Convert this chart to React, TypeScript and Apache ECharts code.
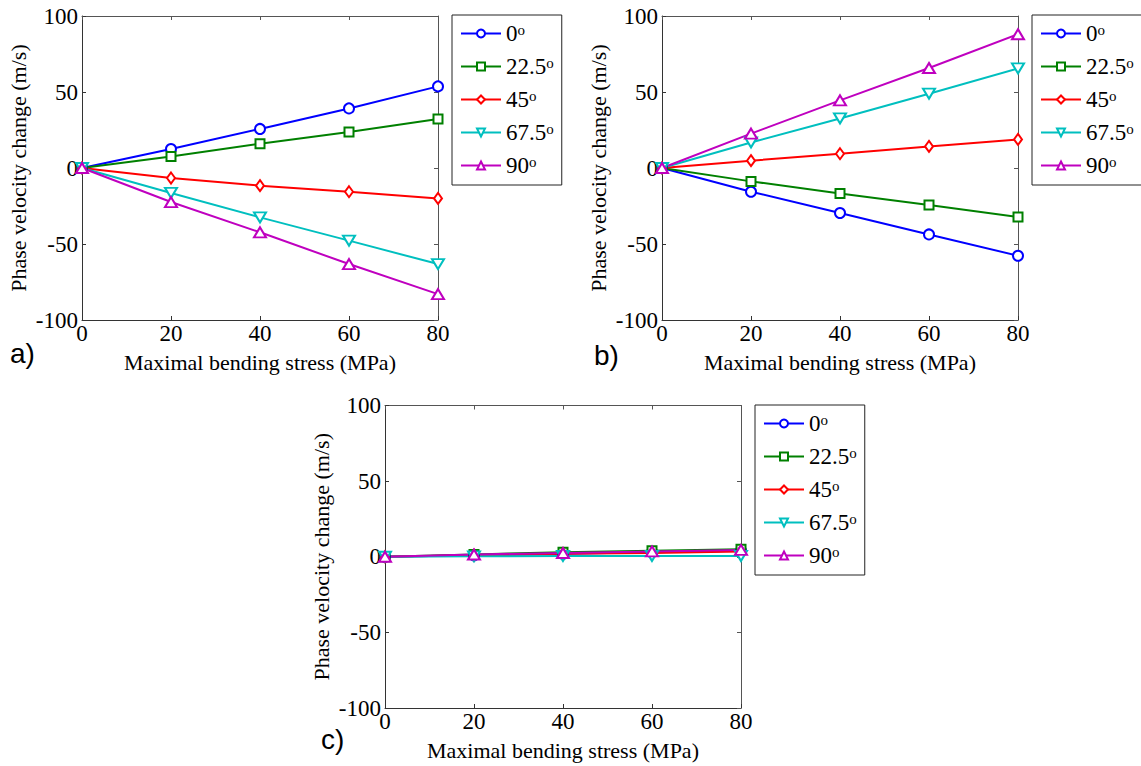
import React, { useEffect, useRef } from 'react';
import * as echarts from 'echarts';

// ---- data ----
const stress = [0, 20, 40, 60, 80];
const angleLabels = ['0', '22.5', '45', '67.5', '90'];
const xTicks = { min: 0, max: 80, interval: 20 };
const yTicks = { min: -100, max: 100, interval: 50 };
const xTitle = 'Maximal bending stress (MPa)';
const yTitle = 'Phase velocity change (m/s)';

// panel a)
const a0 = [0, 12.5, 25.7, 39.2, 53.7];
const a22 = [0, 7.6, 16, 23.7, 32.2];
const a45 = [0, -6.6, -11.6, -15.6, -20];
const a67 = [0, -16.4, -32.5, -47.8, -63.2];
const a90 = [0, -22.4, -42.3, -63.2, -83];

// panel b)
const b0 = [0, -15.6, -29.6, -43.7, -57.7];
const b22 = [0, -8.8, -16.7, -24.3, -32.2];
const b45 = [0, 4.8, 9.4, 14.2, 18.8];
const b67 = [0, 16.8, 32.6, 48.9, 65.5];
const b90 = [0, 22.6, 44.5, 65.8, 88];

// panel c)
const c0 = [0, 1, 2, 3, 4];
const c22 = [0, 1.5, 3, 4, 5];
const c45 = [0, 1, 2, 2.5, 3.5];
const c67 = [0, 0.3, 0.5, 0.5, 0.5];
const c90 = [0, 1.5, 2.5, 3.5, 4.5];

const panelLabels = ['a)', 'b)', 'c)'];
const panelData = [
  [a0, a22, a45, a67, a90],
  [b0, b22, b45, b67, b90],
  [c0, c22, c45, c67, c90],
];

// ---- styling ----
const colors = ['#0000ff', '#008000', '#ff0000', '#00bfbf', '#bf00bf'];
const symbols = ['emptyCircle', 'emptyRect', 'emptyDiamond', 'emptyTriangle', 'emptyTriangle'];
const symbolRotates = [0, 0, 0, 180, 0];
const symbolSizes: any[] = [10, 9, [8, 11], [12, 10], [12, 10]];

const SERIF = '"Liberation Serif", "Times New Roman", serif';
const SANS = '"Liberation Sans", Arial, sans-serif';

const grids = [
  { left: 82, top: 16, width: 356, height: 304 },
  { left: 662, top: 16, width: 356, height: 304 },
  { left: 385, top: 405.5, width: 356, height: 302.5 },
];
const legendPos = [
  { left: 452, top: 15 },
  { left: 1032, top: 15 },
  { left: 755, top: 405 },
];
const labelPos = [
  { x: 10, y: 353 },
  { x: 594, y: 355 },
  { x: 321, y: 739 },
];

function buildOption() {
  const xAxis: any[] = [];
  const yAxis: any[] = [];
  const series: any[] = [];
  const legend: any[] = [];
  const graphic: any[] = [];

  grids.forEach((g, i) => {
    xAxis.push({
      type: 'value', gridIndex: i, position: 'bottom', ...xTicks,
      name: xTitle, nameLocation: 'middle', nameGap: 31,
      nameTextStyle: { fontFamily: SERIF, fontSize: 22, color: '#000' },
      axisLine: { show: true, onZero: false, lineStyle: { color: '#333', width: 1 } },
      axisTick: { show: true, inside: true, length: 4, lineStyle: { color: '#333' } },
      axisLabel: { show: true, margin: 2, fontFamily: SERIF, fontSize: 23, color: '#000' },
      splitLine: { show: false },
    });
    xAxis.push({
      type: 'value', gridIndex: i, position: 'top', ...xTicks,
      axisLine: { show: true, onZero: false, lineStyle: { color: '#555', width: 1 } },
      axisTick: { show: true, inside: true, length: 4, lineStyle: { color: '#555' } },
      axisLabel: { show: false },
      splitLine: { show: false },
    });
    yAxis.push({
      type: 'value', gridIndex: i, position: 'left', ...yTicks,
      name: yTitle, nameLocation: 'middle', nameGap: 53, nameRotate: 90,
      nameTextStyle: { fontFamily: SERIF, fontSize: 22, color: '#000' },
      axisLine: { show: true, onZero: false, lineStyle: { color: '#333', width: 1 } },
      axisTick: { show: true, inside: true, length: 4, lineStyle: { color: '#333' } },
      axisLabel: { show: true, margin: 4, fontFamily: SERIF, fontSize: 23, color: '#000' },
      splitLine: { show: false },
    });
    yAxis.push({
      type: 'value', gridIndex: i, position: 'right', ...yTicks,
      axisLine: { show: true, onZero: false, lineStyle: { color: '#555', width: 1 } },
      axisTick: { show: true, inside: true, length: 4, lineStyle: { color: '#555' } },
      axisLabel: { show: false },
      splitLine: { show: false },
    });

    panelData[i].forEach((vals, k) => {
      series.push({
        type: 'line',
        name: angleLabels[k],
        xAxisIndex: 2 * i,
        yAxisIndex: 2 * i,
        data: stress.map((x, j) => [x, vals[j]]),
        symbol: symbols[k],
        symbolSize: symbolSizes[k],
        symbolRotate: symbolRotates[k],
        showAllSymbol: true,
        clip: false,
        lineStyle: { color: colors[k], width: 2 },
        itemStyle: { color: colors[k], borderWidth: 1.5 },
        emphasis: { disabled: true },
      });
    });

    legend.push({
      orient: 'vertical',
      left: legendPos[i].left,
      top: legendPos[i].top,
      data: angleLabels,
      borderColor: '#222',
      borderWidth: 1,
      backgroundColor: '#fff',
      padding: [7, 8, 8, 8],
      itemGap: 10,
      itemWidth: 40,
      itemHeight: 10,
      selectedMode: false,
      formatter: (name: string) => `{n|${name}}{s|o}`,
      textStyle: {
        fontFamily: SERIF,
        fontSize: 23,
        color: '#000',
        rich: {
          n: { fontFamily: SERIF, fontSize: 23, color: '#000', lineHeight: 23 },
          s: { fontFamily: SERIF, fontSize: 15, color: '#000', lineHeight: 15, verticalAlign: 'top' },
        },
      },
    });

    graphic.push({
      type: 'text',
      x: labelPos[i].x,
      y: labelPos[i].y,
      style: {
        text: panelLabels[i],
        font: `28px ${SANS}`,
        fill: '#000',
        textVerticalAlign: 'middle',
      },
    });
  });

  return {
    animation: false,
    backgroundColor: '#fff',
    grid: grids.map((g) => ({ ...g, containLabel: false })),
    xAxis,
    yAxis,
    legend,
    series,
    graphic,
  };
}

export default function App() {
  const ref = useRef<HTMLDivElement>(null);
  useEffect(() => {
    if (!ref.current) return;
    const chart = echarts.init(ref.current, undefined, { renderer: 'svg' });
    chart.setOption(buildOption() as any);
    return () => chart.dispose();
  }, []);
  return (
    <div
      ref={ref}
      style={{ position: 'fixed', left: 0, top: 0, width: 1141, height: 766, background: '#fff' }}
    />
  );
}
